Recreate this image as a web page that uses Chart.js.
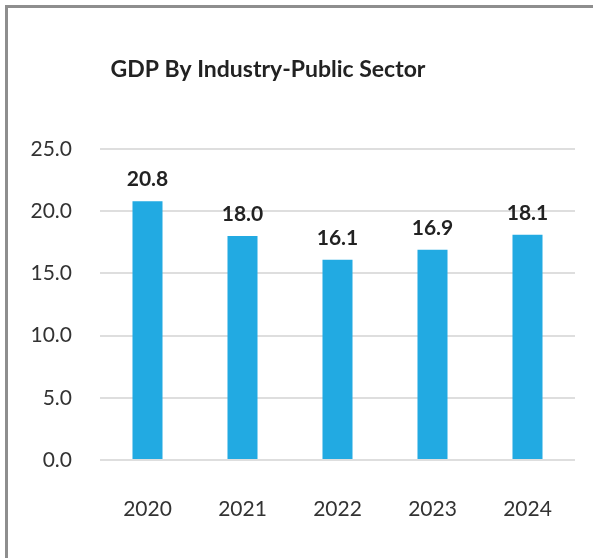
<!DOCTYPE html>
<html>
<head>
<meta charset="utf-8">
<script src="https://cdn.jsdelivr.net/npm/chart.js@4.4.1/dist/chart.umd.min.js"></script>
<style>
  html, body { margin: 0; padding: 0; background: #fff; }
  #wrap { position: relative; width: 593px; height: 558px; overflow: hidden; }
  #frame { position: absolute; left: 5px; top: 5px; width: 700px; height: 700px;
           border-left: 3px solid #8e8e8e; border-top: 3px solid #8e8e8e; }
  #gdpChart { position: absolute; left: 0; top: 0; }
</style>
</head>
<body>
<div id="wrap">
  <div id="frame"></div>
  <canvas id="gdpChart" width="593" height="558"></canvas>
</div>
<script>
// data
const years = ['2020', '2021', '2022', '2023', '2024'];
const gdpValues = [20.8, 18.0, 16.1, 16.9, 18.1];
const yTicks = [0, 5, 10, 15, 20, 25];
const chartTitle = 'GDP By Industry-Public Sector';

const fontFamily = 'Lato, "Open Sans", sans-serif';
const barColor = '#22aae2';

// title drawn left of centre, like the original
const titlePlugin = {
    id: 'sideTitle',
    afterDraw(chart) {
        const ctx = chart.ctx;
        ctx.save();
        ctx.font = 'bold 23px ' + fontFamily;
        ctx.fillStyle = '#222';
        ctx.textAlign = 'center';
        ctx.textBaseline = 'alphabetic';
        ctx.fillText(chartTitle, 268, 77);
        ctx.restore();
    }
};

// value labels above bars
const valueLabels = {
    id: 'valueLabels',
    afterDatasetsDraw(chart) {
        const ctx = chart.ctx;
        const meta = chart.getDatasetMeta(0);
        ctx.save();
        ctx.font = 'bold 21px ' + fontFamily;
        ctx.fillStyle = '#222';
        ctx.textAlign = 'center';
        ctx.textBaseline = 'alphabetic';
        meta.data.forEach((bar, i) => {
            ctx.fillText(gdpValues[i].toFixed(1), bar.x, bar.y - 15);
        });
        ctx.restore();
    }
};

new Chart(document.getElementById('gdpChart'), {
    type: 'bar',
    data: {
        labels: years,
        datasets: [{
            data: gdpValues,
            backgroundColor: barColor,
            borderWidth: 0,
            barPercentage: 0.316,
            categoryPercentage: 1
        }]
    },
    options: {
        responsive: false,
        animation: false,
        layout: { padding: { top: 149, right: 18, bottom: 35, left: 0 } },
        plugins: {
            legend: { display: false },
            title: { display: false },
            tooltip: { enabled: false }
        },
        scales: {
            x: {
                afterFit(scale) { scale.height = 63; },
                grid: { display: false, drawTicks: false },
                border: { display: false },
                ticks: {
                    padding: 37,
                    color: '#333',
                    font: { family: fontFamily, size: 21 }
                }
            },
            y: {
                min: 0,
                max: 25,
                afterFit(scale) { scale.width = 100; },
                afterBuildTicks(scale) { scale.ticks = yTicks.map(v => ({ value: v })); },
                grid: { color: '#dedede', lineWidth: 2, drawTicks: false },
                border: { display: false },
                ticks: {
                    padding: 28,
                    color: '#333',
                    font: { family: fontFamily, size: 21 },
                    callback: v => Number(v).toFixed(1)
                }
            }
        }
    },
    plugins: [titlePlugin, valueLabels]
});
</script>
</body>
</html>
